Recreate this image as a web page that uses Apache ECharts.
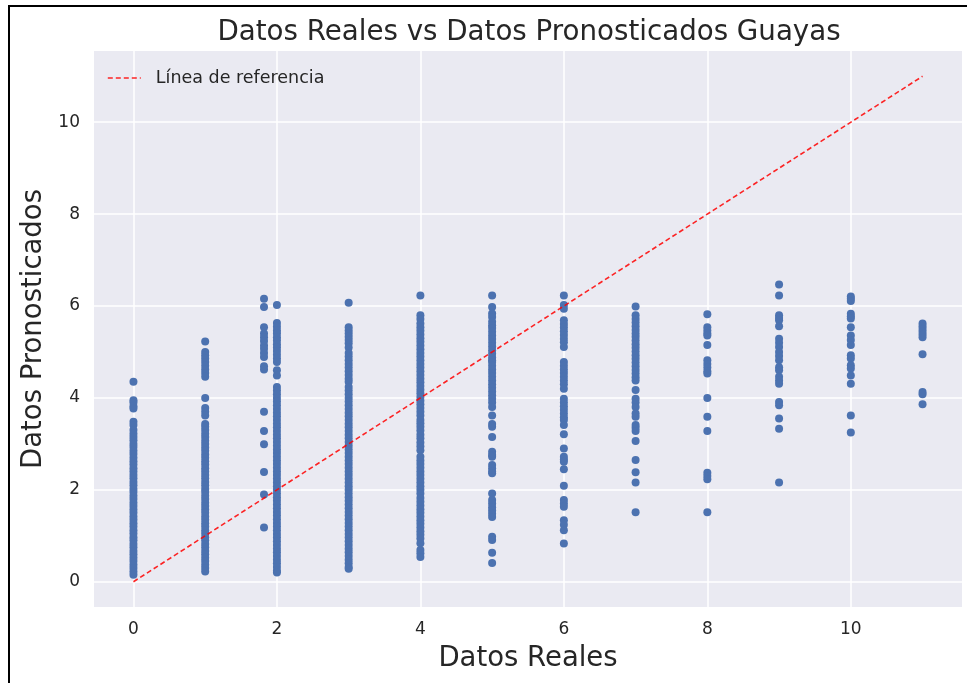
<!DOCTYPE html>
<html>
<head>
<meta charset="utf-8">
<script src="https://cdn.jsdelivr.net/npm/echarts@6/dist/echarts.min.js"></script>
<style>
    html, body { margin: 0; padding: 0; background: #fff; }
    #frame { position: absolute; left: 8px; top: 5px; width: 959px; height: 678px;
             border-left: 2px solid #000; border-top: 2px solid #000; pointer-events: none; z-index: 2; }
    #main { position: absolute; left: 0; top: 0; width: 967px; height: 683px; }
</style>
</head>
<body>
<div id="main"></div>
<div id="frame"></div>
<script>
    // valores reales (eje x) y pronosticos, una lista por columna
    var realValues = [0, 1, 1.82, 2, 3, 4, 5, 6, 7, 8, 9, 10, 11]

    var pred0 = [4.35, 3.95, 3.9, 3.82, 3.77, 3.48, 3.41, 3.3, 3.22, 3.15, 3.08, 3.0, 2.93, 2.85, 2.78, 2.7, 2.62,
        2.55, 2.47, 2.4, 2.32, 2.25, 2.17, 2.1, 2.02, 1.95, 1.87, 1.8, 1.72, 1.65, 1.57, 1.5, 1.42, 1.35, 1.27,
        1.2, 1.12, 1.05, 0.97, 0.9, 0.82, 0.75, 0.67, 0.6, 0.52, 0.45, 0.37, 0.3, 0.22, 0.15]
    var pred1 = [5.23, 5.0, 4.93, 4.86, 4.78, 4.7, 4.62, 4.54, 4.46, 4.0, 3.78, 3.7, 3.62, 3.43, 3.37, 3.3, 3.22,
        3.15, 3.07, 3.0, 2.92, 2.85, 2.77, 2.7, 2.62, 2.55, 2.47, 2.4, 2.32, 2.25, 2.17, 2.1, 2.02, 1.95, 1.87,
        1.8, 1.72, 1.65, 1.57, 1.5, 1.42, 1.35, 1.27, 1.2, 1.12, 1.05, 0.97, 0.9, 0.82, 0.75, 0.67, 0.6, 0.52,
        0.45, 0.37, 0.3, 0.22]
    var pred1b = [6.16, 5.98, 5.54, 5.4, 5.32, 5.24, 5.14, 5.07, 4.98, 4.89, 4.69, 4.62, 3.7, 3.28, 2.99, 2.39,
        1.9, 1.18]
    var pred2 = [6.02, 5.63, 5.55, 5.47, 5.4, 5.32, 5.25, 5.17, 5.1, 5.02, 4.94, 4.86, 4.78, 4.6, 4.49, 4.24,
        4.16, 4.08, 4.0, 3.92, 3.84, 3.76, 3.68, 3.6, 3.52, 3.44, 3.36, 3.28, 3.2, 3.12, 3.04, 2.96, 2.88, 2.8,
        2.72, 2.64, 2.56, 2.48, 2.4, 2.32, 2.24, 2.16, 2.08, 2.0, 1.92, 1.84, 1.76, 1.68, 1.6, 1.52, 1.44, 1.36,
        1.28, 1.2, 1.12, 1.04, 0.96, 0.88, 0.8, 0.72, 0.64, 0.56, 0.48, 0.4, 0.32, 0.24, 0.2]
    var pred3 = [6.07, 5.54, 5.47, 5.4, 5.33, 5.26, 5.19, 5.1, 4.98, 4.9, 4.82, 4.74, 4.66, 4.58, 4.5, 4.42,
        4.35, 4.24, 4.16, 4.08, 4.0, 3.92, 3.84, 3.76, 3.68, 3.6, 3.52, 3.44, 3.36, 3.28, 3.2, 3.12, 3.04, 2.96,
        2.88, 2.8, 2.72, 2.64, 2.56, 2.48, 2.4, 2.32, 2.24, 2.16, 2.08, 2.0, 1.92, 1.84, 1.76, 1.68, 1.6, 1.52,
        1.44, 1.36, 1.28, 1.2, 1.12, 1.04, 0.96, 0.88, 0.8, 0.72, 0.64, 0.56, 0.48, 0.4, 0.32, 0.28]
    var pred4 = [6.23, 5.8, 5.72, 5.62, 5.54, 5.46, 5.38, 5.3, 5.22, 5.14, 5.06, 4.98, 4.9, 4.82, 4.74, 4.66,
        4.58, 4.5, 4.42, 4.34, 4.26, 4.18, 4.1, 4.02, 3.94, 3.86, 3.78, 3.7, 3.62, 3.52, 3.45, 3.37, 3.29, 3.2,
        3.12, 3.03, 2.95, 2.86, 2.72, 2.64, 2.56, 2.48, 2.4, 2.32, 2.24, 2.16, 2.08, 2.0, 1.92, 1.82, 1.74, 1.66,
        1.58, 1.5, 1.42, 1.34, 1.26, 1.18, 1.1, 1.02, 0.94, 0.84, 0.69, 0.62, 0.54]
    var pred5 = [6.23, 5.98, 5.84, 5.76, 5.66, 5.58, 5.52, 5.44, 5.36, 5.28, 5.2, 5.12, 5.04, 4.96, 4.88, 4.82,
        4.78, 4.7, 4.62, 4.54, 4.46, 4.38, 4.3, 4.22, 4.14, 4.06, 3.98, 3.9, 3.8, 3.62, 3.43, 3.37, 3.15, 2.83,
        2.76, 2.72, 2.54, 2.47, 2.4, 2.36, 1.92, 1.78, 1.7, 1.62, 1.55, 1.48, 1.41, 0.98, 0.91, 0.63, 0.41]
    var pred6 = [6.23, 6.02, 5.94, 5.69, 5.61, 5.53, 5.45, 5.37, 5.29, 5.21, 5.11, 4.78, 4.7, 4.62, 4.54, 4.46,
        4.38, 4.3, 4.2, 3.98, 3.9, 3.82, 3.74, 3.66, 3.58, 3.52, 3.41, 3.21, 2.9, 2.72, 2.66, 2.61, 2.45, 2.09,
        1.78, 1.7, 1.63, 1.34, 1.24, 1.12, 0.83]
    var pred7 = [5.99, 5.8, 5.72, 5.64, 5.56, 5.48, 5.4, 5.33, 5.25, 5.17, 5.09, 5.01, 4.93, 4.85, 4.77, 4.69,
        4.61, 4.53, 4.45, 4.38, 4.17, 3.98, 3.9, 3.8, 3.66, 3.59, 3.41, 3.35, 3.28, 3.06, 2.65, 2.38, 2.16, 1.51]
    var pred8 = [5.82, 5.54, 5.47, 5.4, 5.36, 5.15, 4.82, 4.74, 4.66, 4.58, 4.53, 4.0, 3.59, 3.28, 2.37, 2.3,
        2.23, 1.51]
    var pred9 = [6.47, 6.23, 5.8, 5.74, 5.69, 5.56, 5.29, 5.2, 5.11, 5.0, 4.91, 4.82, 4.67, 4.6, 4.46, 4.38,
        4.31, 3.91, 3.84, 3.55, 3.33, 2.16]
    var pred10 = [6.21, 6.16, 6.11, 5.83, 5.78, 5.73, 5.54, 5.36, 5.26, 5.15, 4.93, 4.86, 4.71, 4.64, 4.49,
        4.31, 3.62, 3.25]
    var pred11 = [5.62, 5.56, 5.5, 5.44, 5.38, 5.32, 4.95, 4.13, 4.08, 3.86]

    var predColumns = [pred0, pred1, pred1b, pred2, pred3, pred4, pred5, pred6, pred7, pred8, pred9, pred10, pred11]

    // linea de referencia y = x
    var refX = [0, 11]
    var refY = [0, 11]

    var xTicks = [0, 2, 4, 6, 8, 10]
    var yTicks = [0, 2, 4, 6, 8, 10]

    var scatterData = []
    for (var i = 0; i < realValues.length; i++) {
        for (var j = 0; j < predColumns[i].length; j++) {
            scatterData.push([realValues[i], predColumns[i][j]])
        }
    }
    var refData = refX.map(function (x, k) { return [x, refY[k]] })

    var font = 'DejaVu Sans'
    var textColor = '#262626'
    var refColor = 'rgba(255, 0, 0, 0.85)'

    function tickFormatter(ticks) {
        return function (v) {
            var r = Math.round(v * 1000) / 1000
            return ticks.indexOf(r) >= 0 ? String(Math.abs(r)) : ''
        }
    }

    var chart = echarts.init(document.getElementById('main'), null, {renderer: 'canvas'})
    chart.setOption({
        animation: false,
        backgroundColor: '#ffffff',
        textStyle: {fontFamily: font},
        title: {
            text: 'Datos Reales vs Datos Pronosticados Guayas',
            left: 524,
            top: 14,
            textAlign: 'center',
            textStyle: {fontFamily: font, fontSize: 27.7, fontWeight: 'normal', color: textColor}
        },
        legend: {
            left: 102,
            top: 64,
            itemWidth: 33,
            itemHeight: 14,
            textStyle: {fontFamily: font, fontSize: 17.5, color: textColor, padding: [0, 0, 0, 10]},
            data: [{
                name: 'Línea de referencia',
                itemStyle: {opacity: 0},
                lineStyle: {color: refColor, width: 1.6, type: [5, 3]}
            }]
        },
        grid: {
            left: 94,
            top: 51,
            width: 868,
            height: 556,
            show: true,
            backgroundColor: '#eaeaf2',
            borderWidth: 0
        },
        xAxis: {
            type: 'value',
            min: -0.55,
            max: 11.55,
            splitNumber: 6,
            name: 'Datos Reales',
            nameLocation: 'middle',
            nameGap: 38,
            nameTextStyle: {fontFamily: font, fontSize: 27.5, color: textColor},
            axisLine: {show: false},
            axisTick: {show: false},
            axisLabel: {
                margin: 14, fontSize: 17, color: textColor, fontFamily: font,
                formatter: tickFormatter(xTicks)
            },
            splitLine: {show: true, showMinLine: false, showMaxLine: false, lineStyle: {color: '#ffffff', width: 1.5}}
        },
        yAxis: {
            type: 'value',
            min: -0.55,
            max: 11.55,
            splitNumber: 6,
            name: 'Datos Pronosticados',
            nameLocation: 'middle',
            nameGap: 46,
            nameTextStyle: {fontFamily: font, fontSize: 27.5, color: textColor},
            axisLine: {show: false},
            axisTick: {show: false},
            axisLabel: {
                margin: 14, fontSize: 17, color: textColor, fontFamily: font,
                formatter: tickFormatter(yTicks)
            },
            splitLine: {show: true, showMinLine: false, showMaxLine: false, lineStyle: {color: '#ffffff', width: 1.5}}
        },
        series: [
            {
                name: 'Datos',
                type: 'scatter',
                symbol: 'circle',
                symbolSize: 8,
                itemStyle: {color: '#4c72b0', opacity: 1},
                emphasis: {disabled: true},
                z: 2,
                data: scatterData
            },
            {
                name: 'Línea de referencia',
                type: 'line',
                symbol: 'none',
                showSymbol: false,
                itemStyle: {color: refColor},
                lineStyle: {color: refColor, width: 1.6, type: [5, 3]},
                emphasis: {disabled: true},
                z: 3,
                data: refData
            }
        ]
    })
</script>
</body>
</html>
